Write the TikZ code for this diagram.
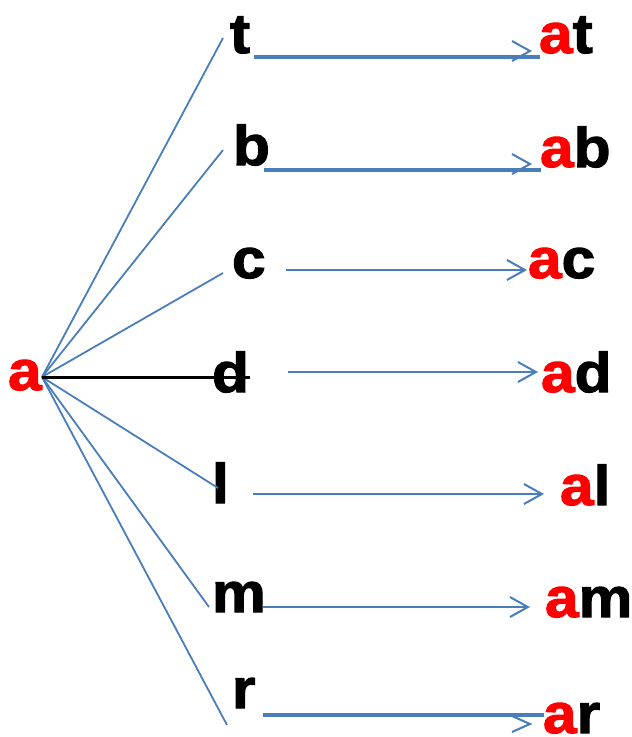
\documentclass[tikz,border=0pt]{standalone}
\usepackage{fontspec}
\setmainfont{Liberation Sans}[FakeStretch=1.08, BoldFeatures={FakeBold=2}]
\usetikzlibrary{arrows.meta}
\definecolor{lblue}{RGB}{74,126,187}
\definecolor{lred}{RGB}{255,0,0}
\begin{document}
\begin{tikzpicture}[x=1pt,y=-1pt,
  letter/.style={inner sep=0pt,outer sep=0pt,anchor=base west,font=\fontsize{56}{60}\selectfont\bfseries},
  fan/.style={draw=lblue,line width=1.8pt},
  thin/.style={draw=lblue,line width=2pt,-{Straight Barb[length=18pt,width=20pt,line width=2pt]}},
  thick/.style={draw=lblue,line width=4pt},
  barb/.style={draw=lblue,line width=2pt}]
\useasboundingbox (0,0) rectangle (632,737);
% root
\node[letter] (a) at (8,390) {\color{lred}a};
\coordinate (o) at (42,377);
% left letters
\node[letter] (t) at (230,53) {t};
\node[letter] (b) at (233,165) {b};
\node[letter] (c) at (232,278) {c};
\node[letter] (d) at (212,392) {d};
\node[letter] (l) at (212,503) {l};
\node[letter] (m) at (212,612) {m};
\node[letter] (r) at (232,708) {r};
% right words
\node[letter] (at) at (539,53) {\color{lred}a\color{black}t};
\node[letter] (ab) at (540,167) {\color{lred}a\color{black}b};
\node[letter] (ac) at (528,278) {\color{lred}a\color{black}c};
\node[letter] (ad) at (541,392) {\color{lred}a\color{black}d};
\node[letter] (al) at (560,505) {\color{lred}a\color{black}l};
\node[letter] (am) at (545,617) {\color{lred}a\color{black}m};
\node[letter] (ar) at (543,733) {\color{lred}a\color{black}r};
% fan endpoints
\coordinate (ft) at (223,38);
\coordinate (fb) at (223,150);
\coordinate (fc) at (223,273);
\coordinate (fd) at (250,377);
\coordinate (fl) at (218,488);
\coordinate (fm) at (209,607);
\coordinate (fr) at (227,725);
\draw[fan] (o) -- (ft);
\draw[fan] (o) -- (fb);
\draw[fan] (o) -- (fc);
\draw[fan] (o) -- (fl);
\draw[fan] (o) -- (fm);
\draw[fan] (o) -- (fr);
\draw[black,line width=3pt] (o) -- (fd);
% thick lines with separate barbs
\coordinate (ts) at (254,57); \coordinate (te) at (540,57);
\draw[thick] (ts) -- (te);
\draw[barb] (512,41) -- (530,51) -- (512,61);
\coordinate (bs) at (264,170); \coordinate (be) at (541,170);
\draw[thick] (bs) -- (be);
\draw[barb] (512,154) -- (530,164) -- (512,174);
\coordinate (rs) at (263,715); \coordinate (re) at (544,715);
\draw[thick] (rs) -- (re);
\draw[barb] (512,716) -- (530,724) -- (512,732);
% thin arrows
\coordinate (cs) at (286,270); \coordinate (ce) at (527,270);
\draw[thin] (cs) -- (ce);
\coordinate (ds) at (288,372); \coordinate (de) at (538,372);
\draw[thin] (ds) -- (de);
\coordinate (ls) at (253,494); \coordinate (le) at (544,494);
\draw[thin] (ls) -- (le);
\coordinate (ms) at (263,607); \coordinate (me) at (530,607);
\draw[thin] (ms) -- (me);
\end{tikzpicture}
\end{document}
